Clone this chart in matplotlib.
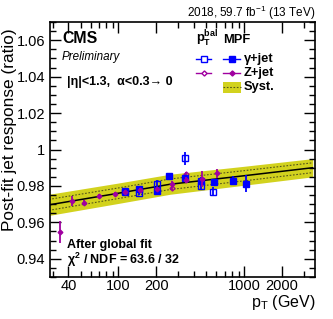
import numpy as np
import matplotlib
matplotlib.use('Agg')
import matplotlib.pyplot as plt
from matplotlib.ticker import FixedLocator, NullFormatter, FixedFormatter
from matplotlib.patches import Rectangle

plt.rcParams['font.family'] = ['Liberation Sans', 'DejaVu Sans']
plt.rcParams['mathtext.fontset'] = 'custom'
plt.rcParams['mathtext.rm'] = 'Liberation Sans'
plt.rcParams['mathtext.it'] = 'Liberation Sans:italic'
plt.rcParams['mathtext.bf'] = 'Liberation Sans:bold'

#------------------------------------------------------------------------------
# data
z_mpf_pt = [34, 43, 53, 70, 93, 113, 148, 201, 264, 347, 458, 612]
z_mpf = [0.9545, 0.9718, 0.9709, 0.9745, 0.9756, 0.9769, 0.9778, 0.9782,
         0.9813, 0.9833, 0.9837, 0.9869]
z_mpf_err = [0.0060, 0.0027, 0.0016, 0.0010, 0.0010, 0.0010, 0.0010, 0.0010,
             0.0015, 0.0015, 0.0045, 0.0026]

z_bal_pt = [264, 347]
z_bal = [0.9787, 0.9866]
z_bal_err = [0.0012, 0.0012]

g_mpf_pt = [113, 146, 203, 253, 337, 449, 572, 815, 1026]
g_mpf = [0.9769, 0.9784, 0.9774, 0.9855, 0.9846, 0.9827, 0.9820, 0.9829, 0.9811]
g_mpf_err = [0.0010, 0.0010, 0.0012, 0.0012, 0.0015, 0.0020, 0.0020, 0.0025, 0.0047]

g_bal_pt = [113, 146, 203, 337, 449, 565]
g_bal = [0.9770, 0.9760, 0.9811, 0.9951, 0.9800, 0.9769]
g_bal_err = [0.0010, 0.0012, 0.0020, 0.0036, 0.0020, 0.0027]

# global fit curve and its uncertainty band
fit_pt = [28, 100, 256, 1000, 3500]
fit_val = [0.9696, 0.9760, 0.9809, 0.9856, 0.9900]
fit_syst = [0.0058, 0.0056, 0.0055, 0.0052, 0.0050]
fit_stat = [0.0030, 0.0029, 0.0029, 0.0028, 0.0027]

x_ticklabels = ['40', '100', '200', '1000', '2000']
x_ticks = [40, 100, 200, 1000, 2000]

blue = '#0000ff'
purple = '#a000a0'
band_color = '#d2d21e'

W, H = 333, 319
fig = plt.figure(figsize=(W/100, H/100), dpi=100)
ax = fig.add_axes([49.5/W, 1-277/H, (315-49.5)/W, (277-22)/H])

fit_pt = np.array(fit_pt)
fit_val = np.array(fit_val)
ax.fill_between(fit_pt, fit_val-np.array(fit_syst), fit_val+np.array(fit_syst),
                color=band_color, lw=0, zorder=1)
ax.plot(fit_pt, fit_val+np.array(fit_stat), ls=(0, (1.5, 1.5)), color='#55551a', lw=0.8, zorder=2)
ax.plot(fit_pt, fit_val-np.array(fit_stat), ls=(0, (1.5, 1.5)), color='#55551a', lw=0.8, zorder=2)
ax.plot(fit_pt, fit_val, color='k', lw=1.1, zorder=3)

#open markers (pT balance)
ax.errorbar(g_bal_pt, g_bal, yerr=g_bal_err, fmt='s', ms=5, mfc='none', mec=blue,
            mew=1.0, color=blue, elinewidth=1.3, capsize=0, zorder=4)
ax.errorbar(z_bal_pt, z_bal, yerr=z_bal_err, fmt='D', ms=2.6, mfc='none', mec=purple,
            mew=0.9, color=purple, elinewidth=1.3, capsize=0, zorder=4)
#filled markers (MPF)
ax.errorbar(g_mpf_pt, g_mpf, yerr=g_mpf_err, fmt='s', ms=5, mfc=blue, mec=blue,
            color=blue, elinewidth=1.3, capsize=0, zorder=5)
ax.errorbar(z_mpf_pt, z_mpf, yerr=z_mpf_err, fmt='D', ms=2.4, mfc=purple, mec=purple,
            color=purple, elinewidth=1.3, capsize=0, zorder=6)

ax.set_xscale('log')
ax.set_xlim(28.3, 3650)
ax.set_ylim(0.93, 1.07)

ax.xaxis.set_major_locator(FixedLocator(x_ticks))
ax.xaxis.set_major_formatter(FixedFormatter(x_ticklabels))
minor = [m*10**e for e in (1, 2, 3) for m in range(2, 10)]
ax.xaxis.set_minor_locator(FixedLocator([v for v in minor if v not in x_ticks]))
ax.xaxis.set_minor_formatter(NullFormatter())
ax.yaxis.set_major_locator(FixedLocator([0.94, 0.96, 0.98, 1.0, 1.02, 1.04, 1.06]))
ax.yaxis.set_major_formatter(FixedFormatter(['0.94', '0.96', '0.98', '1', '1.02', '1.04', '1.06']))
ax.yaxis.set_minor_locator(FixedLocator(np.arange(0.93, 1.0701, 0.005)))

ax.tick_params(which='both', direction='in', top=True, right=True, width=1.0, labelsize=10.5)
ax.tick_params(which='major', length=8, pad=3)
ax.tick_params(axis='x', which='major', pad=1.5)
ax.tick_params(which='minor', length=4)
for s in ax.spines.values():
    s.set_linewidth(1.2)

fig.text(10/W, 1-28/H, 'Post-fit jet response (ratio)', rotation=90,
         ha='center', va='top', fontsize=12.4)
fig.text(315/W, 1-307/H, r'p$_{\mathregular{T}}$ (GeV)', ha='right', va='baseline', fontsize=11.5)

fig.text(315/W, 1-17/H, r'2018, 59.7 fb$^{\mathregular{-1}}$ (13 TeV)', ha='right',
         va='baseline', fontsize=8.5)
fig.text(62/W, 1-43/H, 'CMS', fontweight='bold', fontsize=11.4, va='baseline')
fig.text(62/W, 1-60/H, 'Preliminary', style='italic', fontsize=8.4, va='baseline')
fig.text(67/W, 1-85/H, '|η|<1.3,  α<0.3→ 0', fontweight='bold', fontsize=9, va='baseline')
fig.text(67/W, 1-248/H, 'After global fit', fontweight='bold', fontsize=9, va='baseline')
fig.text(67/W, 1-264/H, r'χ$^{\mathbf{2}}$ / NDF = 63.6 / 32', fontweight='bold',
         fontsize=9, va='baseline')

# legend drawn by hand
fig.text(196/W, 1-43/H, r'$\mathbf{p}_{\mathbf{T}}^{\mathbf{bal}}$', fontsize=9.3, va='baseline')
fig.text(223/W, 1-43/H, 'MPF', fontweight='bold', fontsize=9.3, va='baseline')
rows = [(59.3, blue, 's', 5, 'γ+jet'), (72.7, purple, 'D', 2.6, 'Z+jet')]
for y, c, m, ms, lab in rows:
    fy = 1-y/H
    fig.add_artist(plt.Line2D([196/W, 211/W], [fy, fy], color=c, lw=1.0))
    fig.add_artist(plt.Line2D([203.5/W], [fy], marker=m, ms=ms, mfc='white', mec=c, mew=1.0))
    fig.add_artist(plt.Line2D([223/W, 240/W], [fy, fy], color=c, lw=1.0))
    fig.add_artist(plt.Line2D([231.7/W], [fy], marker=m, ms=ms, mfc=c, mec=c))
    fig.text(244/W, fy, lab, fontweight='bold', fontsize=9.3, va='center')
fig.add_artist(Rectangle((223.3/W, 1-92.7/H), 17.4/W, 10.4/H, color=band_color, lw=0))
fig.add_artist(plt.Line2D([223.3/W, 240.7/W], [1-87.5/H]*2, ls=(0, (1.5, 1.5)),
                          color='#55551a', lw=0.8))
fig.text(244/W, 1-87/H, 'Syst.', fontweight='bold', fontsize=9.3, va='center')

fig.savefig('out.png', dpi=100)
